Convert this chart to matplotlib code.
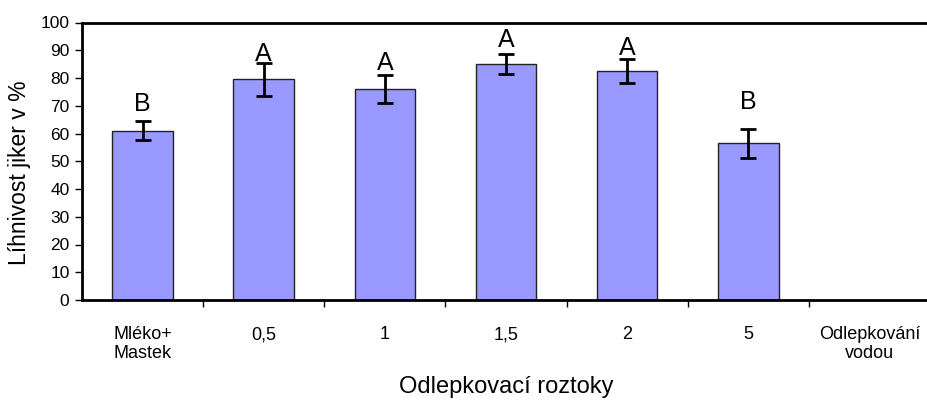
import matplotlib.pyplot as plt
import numpy as np

plt.rcParams['font.family'] = ['Liberation Sans', 'DejaVu Sans']

# data
categories = ["Mléko+\nMastek", "0,5", "1", "1,5", "2", "5", "Odlepkování\nvodou"]
values = [61, 79.5, 76, 85, 82.5, 56.5, 0]
errors = [3.5, 6, 5, 3.7, 4.2, 5.3, 0]
letters = ["B", "A", "A", "A", "A", "B", ""]
letter_y = [68, 86, 82.8, 91.3, 88.4, 69, 0]

fig = plt.figure(figsize=(9.27, 4.03), dpi=100)
ax = fig.add_axes([82/927, 1-300/403, 848/927, 277.5/403])

x = np.arange(len(categories))
shown = [i for i in range(len(values)) if values[i] > 0]
ax.bar(x[shown], [values[i] for i in shown], width=0.5, color="#9999ff",
       edgecolor="#222222", linewidth=1, zorder=2)
ax.errorbar(x[shown], [values[i] for i in shown], yerr=[errors[i] for i in shown],
            fmt="none", ecolor="black", elinewidth=2, capsize=6, capthick=2, zorder=3)
for i in shown:
    ax.text(x[i], letter_y[i], letters[i], ha="center", va="baseline",
            fontsize=18, zorder=4)

ax.set_xlim(-0.5, len(categories) - 0.5)
ax.set_ylim(0, 100)
ax.set_yticks(np.arange(0, 101, 10))
ax.tick_params(axis="y", labelsize=12.5, length=5, width=1, direction="out", pad=4)

ax.set_xticks(x)
ax.set_xticklabels(categories, fontsize=13, linespacing=1.15)
ax.tick_params(axis="x", which="major", length=0, pad=19)
ax.set_xticks(np.arange(0.5, len(categories) - 0.5, 1), minor=True)
ax.tick_params(axis="x", which="minor", length=5, width=1, direction="out")

for s in ["left", "top", "bottom"]:
    ax.spines[s].set_linewidth(2)
ax.spines["right"].set_visible(False)

ax.set_ylabel("Líhnivost jiker v %", fontsize=16.5)
ax.yaxis.set_label_coords(-0.06, 0.46)
ax.set_xlabel("Odlepkovací roztoky", fontsize=17, labelpad=10)

fig.savefig("out.png", dpi=100)
